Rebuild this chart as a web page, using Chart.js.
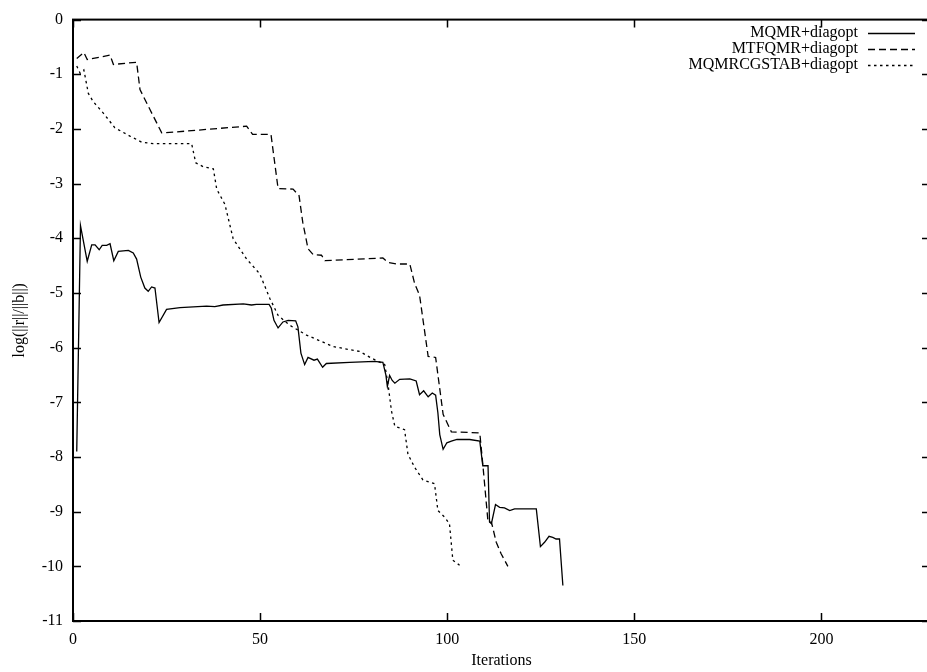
<!DOCTYPE html>
<html lang="en">

<head>
    <meta charset="UTF-8">
    <title>Residual history</title>
    <style>
        html, body { margin: 0; padding: 0; background: #fff; overflow: hidden; }
        .graph { width: 940px; height: 672px; }
    </style>
</head>

<body>
    <div class="graph">
        <canvas id="myChartCanvas" width="940" height="672"></canvas>
    </div>
</body>

</html>
<script src="https://cdn.jsdelivr.net/npm/chart.js"></script>
<script>
    // series labels
    const seriesNames = ['MQMR+diagopt', 'MTFQMR+diagopt', 'MQMRCGSTAB+diagopt'];

    // MQMR + diagopt (solid)
    const mqmrIter = [1, 2, 3.8, 5, 5.9, 7, 7.8, 9, 9.9, 10.9, 12.1, 14.8, 16.1, 17, 18.1, 19.2, 20.1, 21, 21.9, 23, 25, 28.6, 35.7, 37.9, 40.1, 45.5, 47.7, 49, 52.4, 53, 53.7, 54.8, 56.1, 57.5, 59.5, 60.1, 60.9, 61.9, 62.8, 64.4, 65.3, 66.7, 67.7, 73.9, 80.6, 82.8, 83.6, 84, 84.6, 85.3, 86, 87.3, 90, 91.7, 92.6, 93.7, 94.9, 96, 96.9, 97.5, 98, 98.9, 99.9, 101.1, 102.6, 106, 108.7, 109.5, 110.9, 111.3, 111.8, 112.9, 114, 115.3, 116.7, 118, 123.8, 124.9, 126, 127.2, 128.2, 129.1, 130, 130.9];
    const mqmrLog = [-7.9, -3.77, -4.42, -4.12, -4.12, -4.21, -4.13, -4.13, -4.1, -4.41, -4.24, -4.22, -4.27, -4.38, -4.71, -4.91, -4.97, -4.89, -4.91, -5.54, -5.3, -5.27, -5.24, -5.25, -5.22, -5.2, -5.22, -5.21, -5.21, -5.28, -5.5, -5.64, -5.53, -5.5, -5.51, -5.62, -6.1, -6.31, -6.18, -6.23, -6.21, -6.36, -6.29, -6.27, -6.25, -6.27, -6.5, -6.71, -6.51, -6.6, -6.65, -6.58, -6.57, -6.61, -6.86, -6.79, -6.9, -6.83, -6.87, -7.19, -7.59, -7.86, -7.74, -7.71, -7.68, -7.68, -7.71, -8.16, -8.16, -9.19, -9.22, -8.87, -8.92, -8.93, -8.98, -8.95, -8.95, -9.64, -9.56, -9.45, -9.47, -9.5, -9.5, -10.35];

    // MTFQMR + diagopt (dashed)
    const mtfqmrIter = [1, 2.9, 3.8, 9.9, 10.8, 17, 17.9, 20.6, 23.7, 24.6, 46.4, 48, 52.9, 54.8, 58.8, 60.4, 61.4, 62.8, 64.2, 66.4, 67.3, 82.8, 84.2, 86.4, 90, 91.3, 92.6, 94.9, 96.9, 98.9, 101.1, 108.7, 109.5, 110.9, 111.8, 113.1, 114.4, 116.2];
    const mtfqmrLog = [-0.71, -0.6, -0.73, -0.65, -0.82, -0.78, -1.28, -1.65, -2.07, -2.07, -1.95, -2.1, -2.1, -3.09, -3.1, -3.22, -3.71, -4.19, -4.3, -4.31, -4.41, -4.36, -4.44, -4.47, -4.47, -4.83, -5.04, -6.16, -6.18, -7.22, -7.54, -7.56, -8.13, -9.19, -9.19, -9.56, -9.77, -10.0];

    // MQMRCGSTAB + diagopt (dotted)
    const cgstabIter = [1, 1.9, 2.9, 4.1, 5.4, 8.1, 11.2, 15.2, 18.3, 21.4, 31.7, 32.8, 34.8, 37.5, 38.4, 40.6, 42.8, 46.4, 49.9, 52.6, 54.8, 57.9, 62.4, 69.5, 76.6, 79.7, 83.3, 84.2, 85.1, 86, 88.6, 89.5, 91.3, 93.5, 96.6, 97.5, 99.3, 100.6, 101.5, 103.3];
    const cgstabLog = [-0.85, -0.98, -0.92, -1.35, -1.5, -1.71, -1.98, -2.13, -2.24, -2.27, -2.27, -2.62, -2.69, -2.73, -3.1, -3.38, -4.01, -4.38, -4.65, -5.1, -5.41, -5.59, -5.77, -5.98, -6.07, -6.19, -6.31, -6.68, -7.16, -7.44, -7.5, -7.95, -8.19, -8.42, -8.49, -8.98, -9.1, -9.22, -9.89, -9.98];

    // axis ticks
    const xTicks = [0, 50, 100, 150, 200];
    const yTicks = [0, -1, -2, -3, -4, -5, -6, -7, -8, -9, -10, -11];

    const FONT = 'Liberation Serif';

    function pontos(xs, ys) {
        let arr = [];
        for (let i = 0; i < xs.length; i++) {
            arr.push({ x: xs[i], y: ys[i] });
        }
        return arr;
    }

    // gnuplot style: border box and ticks pointing inwards
    const bordaTicks = {
        id: 'bordaTicks',
        afterDatasetsDraw(chart) {
            const ctx = chart.ctx;
            const a = chart.chartArea;
            const sx = chart.scales.x;
            const sy = chart.scales.y;
            ctx.save();
            ctx.strokeStyle = '#000';
            ctx.lineWidth = 1.5;
            ctx.beginPath();
            xTicks.forEach(v => {
                const px = Math.round(sx.getPixelForValue(v)) + 0.5;
                ctx.moveTo(px, a.bottom); ctx.lineTo(px, a.bottom - 8);
                ctx.moveTo(px, a.top); ctx.lineTo(px, a.top + 8);
            });
            yTicks.forEach(v => {
                const py = Math.round(sy.getPixelForValue(v)) + 0.5;
                ctx.moveTo(a.left, py); ctx.lineTo(a.left + 8, py);
                ctx.moveTo(a.right, py); ctx.lineTo(a.right - 8, py);
            });
            ctx.stroke();
            ctx.lineWidth = 2;
            ctx.strokeRect(a.left, a.top, a.right - a.left, a.bottom - a.top);
            ctx.restore();
        }
    };

    // legend: right aligned text with the line sample on its right
    const legenda = {
        id: 'legenda',
        afterDraw(chart) {
            const ctx = chart.ctx;
            ctx.save();
            ctx.font = '16px "' + FONT + '"';
            ctx.fillStyle = '#000';
            ctx.textAlign = 'right';
            ctx.textBaseline = 'middle';
            chart.data.datasets.forEach((ds, i) => {
                const y = 33 + i * 16;
                ctx.fillText(ds.label, 858, y);
                ctx.beginPath();
                ctx.setLineDash(ds.borderDash || []);
                ctx.lineWidth = ds.borderWidth;
                ctx.strokeStyle = '#000';
                ctx.moveTo(868, y + 0.5);
                ctx.lineTo(915, y + 0.5);
                ctx.stroke();
            });
            ctx.restore();
        }
    };

    const dados = {
        datasets: [{
            label: seriesNames[0],
            data: pontos(mqmrIter, mqmrLog),
            borderColor: '#000',
            borderWidth: 1.3,
            borderDash: [],
            showLine: true,
            pointRadius: 0,
            fill: false,
            tension: 0
        }, {
            label: seriesNames[1],
            data: pontos(mtfqmrIter, mtfqmrLog),
            borderColor: '#000',
            borderWidth: 1.3,
            borderDash: [7, 4],
            showLine: true,
            pointRadius: 0,
            fill: false,
            tension: 0
        }, {
            label: seriesNames[2],
            data: pontos(cgstabIter, cgstabLog),
            borderColor: '#000',
            borderWidth: 1.3,
            borderDash: [2.5, 3.5],
            showLine: true,
            pointRadius: 0,
            fill: false,
            tension: 0
        }]
    };

    const config = {
        type: 'scatter',
        data: dados,
        options: {
            responsive: false,
            animation: false,
            layout: { padding: { left: 0, top: 16, right: 10, bottom: 0 } },
            plugins: {
                legend: { display: false },
                tooltip: { enabled: false }
            },
            scales: {
                x: {
                    type: 'linear',
                    min: 0,
                    max: 229,
                    afterFit(scale) { scale.height = 51; },
                    afterBuildTicks(scale) { scale.ticks = xTicks.map(v => ({ value: v })); },
                    grid: { display: false, drawTicks: false },
                    border: { display: false },
                    ticks: { color: '#000', padding: 9, font: { family: FONT, size: 16 } },
                    title: {
                        display: true,
                        text: 'Iterations',
                        color: '#000',
                        padding: { top: 0, bottom: 2 },
                        font: { family: FONT, size: 16 }
                    }
                },
                y: {
                    type: 'linear',
                    min: -11,
                    max: 0,
                    afterFit(scale) { scale.width = 73; },
                    afterBuildTicks(scale) { scale.ticks = yTicks.map(v => ({ value: v })); },
                    grid: { display: false, drawTicks: false },
                    border: { display: false },
                    ticks: { color: '#000', padding: 10, font: { family: FONT, size: 16 } },
                    title: {
                        display: true,
                        text: 'log(||r||/||b||)',
                        color: '#000',
                        padding: { top: 10, bottom: 0 },
                        font: { family: FONT, size: 16 }
                    }
                }
            }
        },
        plugins: [bordaTicks, legenda]
    };

    let myChart = new Chart(
        document.getElementById('myChartCanvas'),
        config
    );
</script>
